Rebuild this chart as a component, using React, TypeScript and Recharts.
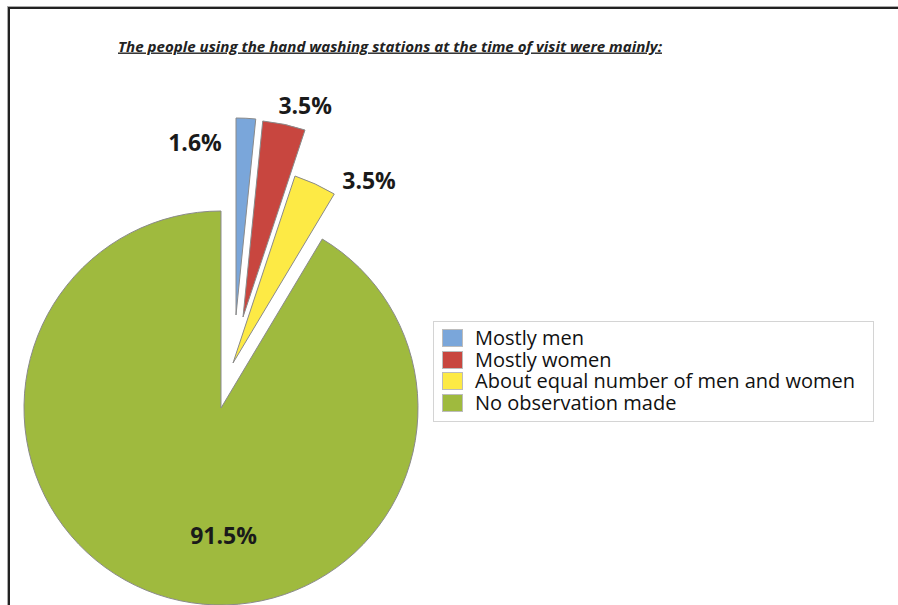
import { Cell, Legend, Pie, PieChart } from "recharts";

const CATEGORIES = [
  "Mostly men",
  "Mostly women",
  "About equal number of men and women",
  "No observation made",
];
const SHARES = [1.6, 3.5, 3.5, 91.5];
const COLORS = ["#7aa6da", "#c8463f", "#fdea45", "#9fba3e"];
const TITLE = "The people using the hand washing stations at the time of visit were mainly:";

// Exploded slices: each slice is drawn by its own Pie with its own centre.
const CENTERS = [
  { cx: 236, cy: 315 },
  { cx: 243, cy: 317 },
  { cx: 233, cy: 363 },
  { cx: 221, cy: 408 },
];
// label placement: distance from slice centre and angle shift from mid-angle
const LABEL_POS = [
  { r: 178, shift: 16.2 },
  { r: 221, shift: -4.3 },
  { r: 228, shift: -12 },
  { r: 127, shift: 16.6 },
];

const data = CATEGORIES.map((name, i) => ({ name, value: SHARES[i] }));
const RAD = Math.PI / 180;

function makeLabel(k: number) {
  return (props: any) => {
    if (props.index !== k) return null;
    const p = LABEL_POS[k];
    const a = (props.midAngle + p.shift) * RAD;
    const x = props.cx + p.r * Math.cos(a);
    const y = props.cy - p.r * Math.sin(a);
    return (
      <text
        x={x}
        y={y}
        textAnchor="middle"
        dominantBaseline="central"
        fontFamily="'Open Sans', sans-serif"
        fontWeight={700}
        fontSize={23}
        fill="#1a1a1a"
      >
        {`${Number(props.value).toFixed(1)}%`}
      </text>
    );
  };
}

function LegendBox() {
  return (
    <div
      style={{
        width: 441,
        height: 101,
        border: "1px solid #d4d4d4",
        background: "#fff",
        boxSizing: "border-box",
        paddingTop: 5,
        paddingLeft: 8,
        fontFamily: "'Open Sans', sans-serif",
        fontSize: 20,
        color: "#111",
      }}
    >
      {CATEGORIES.map((c, i) => (
        <div key={c} style={{ display: "flex", alignItems: "center", height: 21.7 }}>
          <span
            style={{
              display: "inline-block",
              width: 19,
              height: 16,
              background: COLORS[i],
              border: "1px solid #bcbcbc",
              marginRight: 12,
              flex: "none",
            }}
          />
          <span style={{ lineHeight: "20px", whiteSpace: "nowrap" }}>{c}</span>
        </div>
      ))}
    </div>
  );
}

export default function App() {
  return (
    <div
      style={{
        position: "fixed",
        left: 0,
        top: 0,
        width: 898,
        height: 605,
        background: "#fff",
        overflow: "hidden",
      }}
    >
      {/* frame */}
      <div
        style={{
          position: "absolute",
          left: 8,
          top: 7,
          width: 900,
          height: 620,
          borderLeft: "2px solid #222",
          borderTop: "2px solid #222",
          boxShadow: "-1px -1px 0 #aaa",
        }}
      />
      <svg
        width={898}
        height={70}
        style={{ position: "absolute", left: 0, top: 0 }}
      >
        <text
          x={118}
          y={51.5}
          textLength={544}
          lengthAdjust="spacingAndGlyphs"
          fontFamily="'Open Sans', sans-serif"
          fontStyle="italic"
          fontWeight={700}
          fontSize={14}
          fill="#222"
          textDecoration="underline"
        >
          {TITLE}
        </text>
      </svg>
      <div style={{ position: "absolute", left: 0, top: 0 }}>
        <PieChart width={898} height={605} margin={{ top: 0, right: 0, bottom: 0, left: 0 }}>
          {CENTERS.map((c, k) => (
            <Pie
              key={k}
              data={data}
              dataKey="value"
              nameKey="name"
              cx={c.cx}
              cy={c.cy}
              outerRadius={197}
              startAngle={90}
              endAngle={-270}
              isAnimationActive={false}
              labelLine={false}
              label={makeLabel(k)}
              legendType="none"
            >
              {data.map((d, i) => (
                <Cell
                  key={d.name}
                  fill={i === k ? COLORS[i] : "none"}
                  stroke={i === k ? "#8a8a8a" : "none"}
                  strokeWidth={1}
                />
              ))}
            </Pie>
          ))}
          <Legend
            content={() => <LegendBox />}
            wrapperStyle={{ left: 433, top: 321, width: 441, bottom: "auto" }}
          />
        </PieChart>
      </div>
    </div>
  );
}
